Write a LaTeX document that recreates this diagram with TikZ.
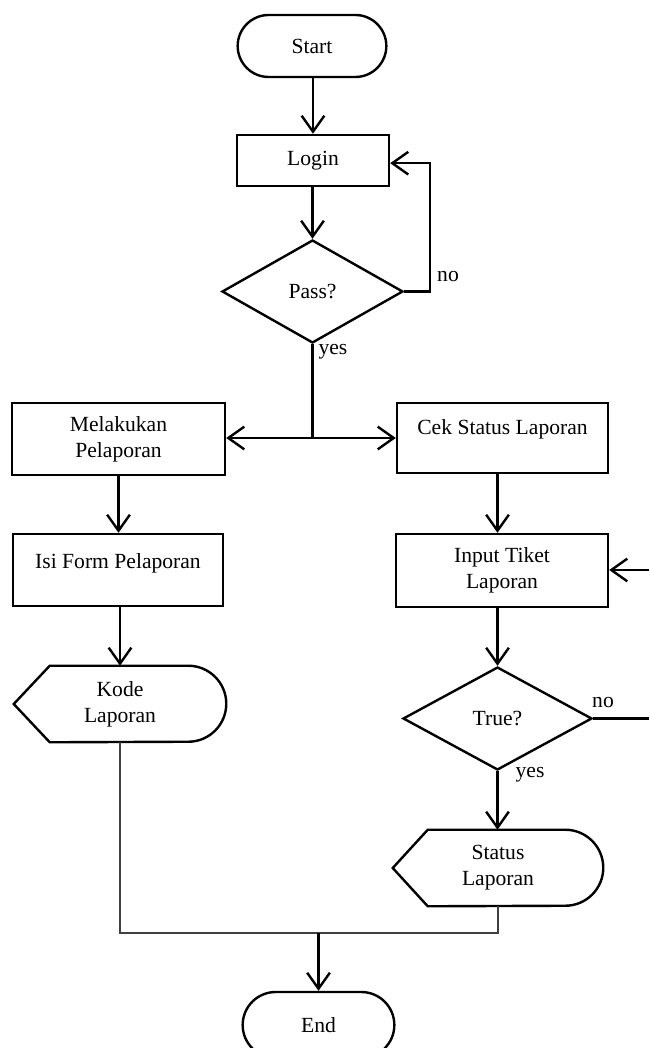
\documentclass[tikz,border=0pt]{standalone}
\usepackage{fontspec}
\setmainfont{Liberation Serif}
\usetikzlibrary{shapes.geometric,shapes.misc,arrows.meta,calc}
\begin{document}
\begin{tikzpicture}[x=0.75pt,y=-0.75pt,
  font=\fontsize{16.2}{19.5}\selectfont,
  box/.style={draw,line width=1.8pt,inner sep=2pt,align=center},
  procbox/.style={box,rectangle},
  termbox/.style={box,rounded rectangle},
  decbox/.style={box,diamond,inner sep=0pt},
  dispbox/.style={rectangle,inner sep=0pt,align=center},
  displine/.style={line width=1.8pt,line join=miter},
  arr/.style={line width=1.8pt,-{Straight Barb[length=12pt,width=17pt]}},
  plain/.style={line width=1.8pt},
  thinline/.style={line width=1pt,draw=black!75},
  lbl/.style={inner sep=0pt}]
\useasboundingbox (0,0) rectangle (649,1048);

% nodes
\node[termbox,minimum width=115.5pt,minimum height=46.5pt] (start) at (312,46) {Start};
\node[procbox,minimum width=114pt,minimum height=38.25pt] (login) at (313,160.5) {Login};
\node[decbox,minimum width=135.75pt,minimum height=77.25pt] (pass) at (312.5,291.5) {Pass?};
\node[procbox,minimum width=159.75pt,minimum height=54pt] (mel) at (118.5,439) {Melakukan\\Pelaporan};
\node[procbox,minimum width=158.25pt,minimum height=52.5pt,text height=11pt,text depth=15.6pt] (cek) at (502.5,438) {Cek Status Laporan};
\node[procbox,minimum width=157.5pt,minimum height=54pt,text height=11pt,text depth=12.6pt] (isi) at (118,570) {Isi Form Pelaporan};
\node[dispbox,minimum width=159pt,minimum height=57pt] (kode) at (120,704) {Kode\\Laporan};
\node[procbox,minimum width=159pt,minimum height=54.75pt] (input) at (502,570.5) {Input Tiket\\Laporan};
\node[decbox,minimum width=141.75pt,minimum height=77.25pt] (truen) at (497.5,718.5) {True?};
\node[dispbox,minimum width=157.5pt,minimum height=57pt] (status) at (498,868) {Status\\Laporan};
\node[termbox,minimum width=117.75pt,minimum height=49.5pt] (end) at (318.5,1025) {End};

% display shapes
\draw[displine] (kode.west) -- ([xshift=27pt]kode.north west) -- ([xshift=-28.5pt]kode.north east)
  arc[start angle=90,end angle=-90,radius=28.5pt] -- ([xshift=27pt]kode.south west) -- cycle;
\draw[displine] (status.west) -- ([xshift=26.25pt]status.north west) -- ([xshift=-28.5pt]status.north east)
  arc[start angle=90,end angle=-90,radius=28.5pt] -- ([xshift=26.25pt]status.south west) -- cycle;

% coordinates
\coordinate (split) at (312.5,438);
\coordinate (rin) at (649,570);
\coordinate (rout) at (649,718.5);
\coordinate (merge) at (318.5,933);

% labels
\node[lbl] (no1) at (448,277) {no};
\node[lbl] (yes1) at (333,352) {yes};
\node[lbl] (no2) at (603,703) {no};
\node[lbl] (yes2) at (530,775) {yes};

% connectors
\draw[arr] (start.south -| login.north) -- (login.north);
\draw[arr] (login.south -| pass.north) -- (pass.north);
\draw[arr] (pass.east) -- ++(26,0) |- ([yshift=-2pt]login.east);
\draw[plain] (pass.south) -- (split);
\draw[arr] (split) -- (split -| mel.east);
\draw[arr] (split) -- (split -| cek.west);
\draw[arr] (mel.south) -- (isi.north -| mel.south);
\draw[arr] (isi.south -| kode.north) -- (kode.north);
\draw[arr] (cek.south -| truen.north) -- (input.north -| truen.north);
\draw[arr] (rin) -- (rin -| input.east);
\draw[arr] (input.south -| truen.north) -- (truen.north);
\draw[plain] (truen.east) -- (rout);
\draw[arr] (truen.south) -- (status.north -| truen.south);
\draw[thinline] (kode.south) |- (merge);
\draw[thinline] (status.south) |- (merge);
\draw[arr] (merge) -- (end.north);
\end{tikzpicture}
\end{document}
